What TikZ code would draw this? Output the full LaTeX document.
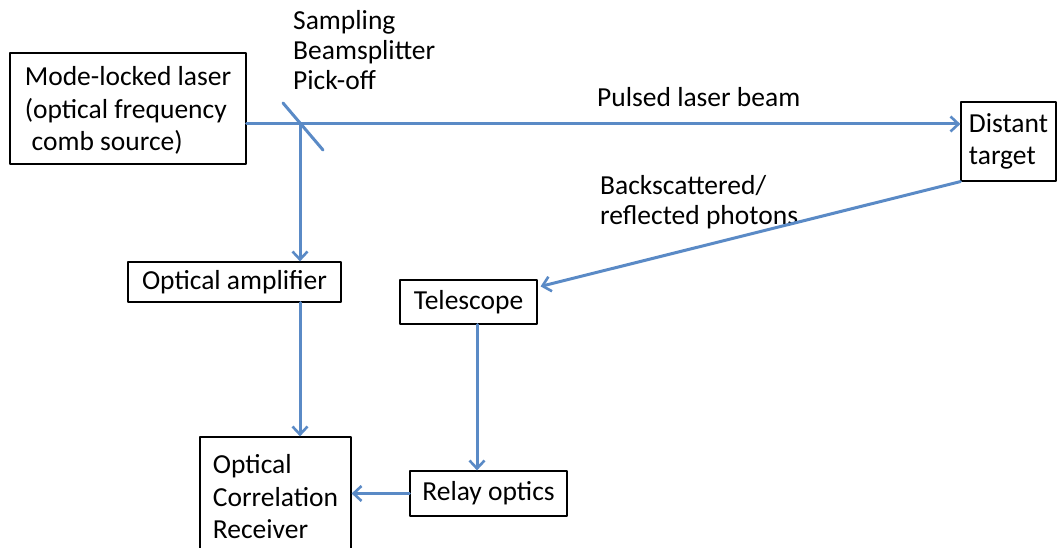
\documentclass[tikz,border=0pt]{standalone}
\usepackage{fontspec}
\setmainfont{Carlito}
\usetikzlibrary{arrows.meta,calc}
\definecolor{beamblue}{HTML}{5A8AC6}
\tikzset{box/.style={draw=black,line width=1.2pt,fill=white,align=left,inner sep=0pt},
  beam/.style={draw=beamblue,line width=3pt,-{Straight Barb[length=8pt,width=15pt,line width=2.6pt]}},
  mirror/.style={draw=beamblue,line width=3pt},
  lbl/.style={align=left,inner sep=0pt,font=\fontsize{27.5}{30}\selectfont}}
\begin{document}
\begin{tikzpicture}[x=1pt,y=-1pt,font=\fontsize{27.5}{32.5}\selectfont,line join=round,line cap=round]
\def \W{1057}\def \H{548}
\useasboundingbox (0,0) rectangle (\W,\H);
\clip (0,0) rectangle (\W,\H);
\node[box,minimum width=236,minimum height=111] (laser) at (128,108.5) {\raisebox{-3.5pt}[\height][\depth]{\begin{tabular}{@{}l@{}}Mode-locked laser\\(optical frequency\\\hspace*{.25em}comb source)\end{tabular}}};
\node[box,minimum width=95,minimum height=79] (target) at (1008.5,141.5) {Distant\\target};
\node[box,minimum width=213,minimum height=40] (amp) at (234.5,282) {Optical amplifier};
\node[box,minimum width=137,minimum height=44] (tele) at (468.5,302) {Telescope};
\node[box,minimum width=157,minimum height=45] (relay) at (488.5,493.5) {Relay optics};
\node[box,minimum width=151,minimum height=120] (recv) at (275.5,497) {Optical\\Correlation\\Receiver};
\node[lbl,anchor=north west] (bslabel) at (293,10) {Sampling\\Beamsplitter\\Pick-off};
\node[lbl,anchor=base west] (pulsed) at (597,107) {Pulsed laser beam};
\node[lbl,anchor=north west] (back) at (600,175) {Backscattered/\\reflected photons};
\coordinate (bs) at (300,124);
\draw[beam] (laser.east |- bs) -- (target.west |- bs);
\draw[mirror] ($(bs)+(-17,-21)$) -- ($(bs)+(23,26)$);
\draw[beam] (bs) -- (bs |- amp.north);
\draw[beam] (bs |- amp.south) -- (bs |- recv.north);
\draw[beam] (target.south west) -- ($(tele.north east)+(3,7)$);
\draw[beam] ([xshift=8.5]tele.south) -- ([xshift=-11.5]relay.north);
\draw[beam] (relay.west) -- (relay.west -| recv.east);
\end{tikzpicture}
\end{document}
